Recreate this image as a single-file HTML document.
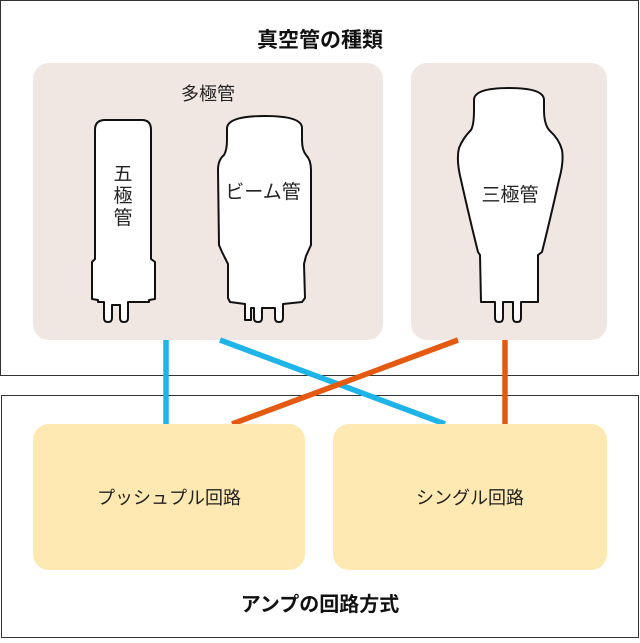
<!DOCTYPE html>
<html><head><meta charset="utf-8"><style>
html,body{margin:0;padding:0;background:#fff}
body{width:640px;height:638px;overflow:hidden;font-family:"Liberation Sans","Noto Sans CJK JP",sans-serif}
</style></head><body>
<svg width="640" height="638" viewBox="0 0 640 638" xmlns="http://www.w3.org/2000/svg" font-family="Liberation Sans, Noto Sans CJK JP, sans-serif">
<rect x="0.5" y="0.5" width="638" height="375" fill="#fff" stroke="#333" stroke-width="1"/>
<rect x="1.5" y="395.5" width="637" height="242" fill="#fff" stroke="#333" stroke-width="1"/>
<text x="320" y="47" text-anchor="middle" font-size="21" font-weight="bold" fill="#111">真空管の種類</text>
<text x="320" y="611" text-anchor="middle" font-size="20" font-weight="bold" fill="#111">アンプの回路方式</text>
<rect x="33" y="63" width="350" height="277" rx="16" fill="#f1e7e2"/>
<rect x="411" y="63" width="196" height="277" rx="16" fill="#f1e7e2"/>
<text x="208" y="100" text-anchor="middle" font-size="18" fill="#222">多極管</text>
<line x1="166" y1="340" x2="166" y2="424" stroke="#1fb4e8" stroke-width="5.5"/>
<line x1="220" y1="340" x2="445" y2="424" stroke="#1fb4e8" stroke-width="5.5"/>
<line x1="458" y1="340" x2="232" y2="424" stroke="#e35a10" stroke-width="5.5"/>
<line x1="505" y1="340" x2="505" y2="424" stroke="#e35a10" stroke-width="5.5"/>
<rect x="33" y="424" width="272" height="146" rx="16" fill="#fde9b1"/>
<rect x="333" y="424" width="274" height="146" rx="16" fill="#fde9b1"/>
<text x="169" y="504" text-anchor="middle" font-size="18" fill="#222">プッシュプル回路</text>
<text x="470" y="504" text-anchor="middle" font-size="18" fill="#222">シングル回路</text>
<g fill="#fff" stroke="#111" stroke-width="2" stroke-linejoin="round">
<path d="M104 318 L104 302 L98 302 L98 300 L92 299 L92 262 L95 259 L95 130 Q95 120 105 120 L142 120 Q151 120 151 130 L151 259 L155 262 L155 299 L149 300 L149 302 L128 302 L128 318 Q128 322 124 322 Q120 322 120 318 L120 305 L112 305 L112 318 Q112 322 108 322 Q104 322 104 318 Z"/>
<path d="M245 320 L245 304 L230 302 L228 298 L228 264 L222 252 L219 245 L218 170 Q218 160 224 155 Q227 150 227 140 L227 128 Q228 116 265 116 Q302 116 302 128 L302 140 Q302 150 306 155 Q311 160 311 170 L311 245 L306 256 L304 264 L305 298 L302 302 L283 304 L283 318 Q283 322 279 322 Q275 322 275 318 L275 308 L262 308 L262 318 Q262 322 258 322 Q254 322 254 318 L254 308 L251 308 L251 320 Z"/>
<path d="M495 318 L495 302 L481 302 L480 255 L478 252 Q470 220 461 180 Q456 160 459 148 Q463 138 471 130 Q474 125 474 110 L474 100 Q474 88 509 88 Q544 88 544 100 L544 110 Q544 125 550 131 Q559 139 562 150 Q564 162 559 180 Q550 220 542 252 L538 255 L538 302 L521 302 L521 318 Q521 322 517 322 Q513 322 513 318 L513 302 L503 302 L503 318 Q503 322 499 322 Q495 322 495 318 Z"/>
</g>
<g font-size="19" fill="#222" text-anchor="middle">
<text x="123" y="180">五</text>
<text x="123" y="202">極</text>
<text x="123" y="224">管</text>
<text x="263" y="198">ビーム管</text>
<text x="510" y="201">三極管</text>
</g>
</svg>
</body></html>
